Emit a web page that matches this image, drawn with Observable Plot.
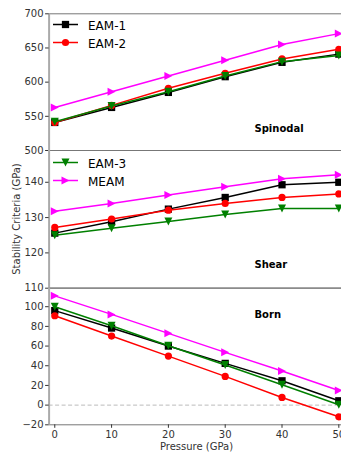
<!DOCTYPE html>
<html><head><meta charset="utf-8">
<script src="https://cdn.jsdelivr.net/npm/d3@7"></script>
<script src="https://cdn.jsdelivr.net/npm/@observablehq/plot@0.6"></script>
<style>
html,body{margin:0;padding:0;background:#fff;overflow:hidden;}
#chart{position:relative;width:341px;height:452px;font-family:"DejaVu Sans",sans-serif;overflow:hidden;}
#chart svg{position:absolute;left:0;top:0;}
.atitle{position:absolute;font-size:10px;color:#333;white-space:nowrap;transform:translate(-50%,-50%);}
</style></head><body><div id="chart"></div>
<script>
// ---- data ----
const pressure = [0, 10, 20, 30, 40, 50];
const seriesNames = ["EAM-1", "EAM-2", "EAM-3", "MEAM"];
const seriesColors = ["#000000", "#ff0000", "#008000", "#ff00ff"];

const spinodalEAM1 = [541, 563, 585, 608, 629, 641];
const spinodalEAM2 = [541, 566, 591, 613, 634, 648];
const spinodalEAM3 = [542, 565, 586, 609, 630, 639];
const spinodalMEAM = [563, 586, 609, 632, 655, 671];

const shearEAM1 = [125.6, 128.8, 132.4, 135.7, 139.3, 140.0];
const shearEAM2 = [127.2, 129.6, 132.1, 134.0, 135.7, 136.7];
const shearEAM3 = [125.0, 127.0, 128.9, 130.9, 132.6, 132.6];
const shearMEAM = [131.8, 134.0, 136.4, 138.7, 141.0, 142.1];

const bornEAM1 = [96, 78.3, 60, 42.4, 24.7, 4.4];
const bornEAM2 = [90.8, 70.2, 49.8, 29.2, 7.8, -11.9];
const bornEAM3 = [100, 80.7, 60.3, 40.7, 20.7, 0.3];
const bornMEAM = [111, 92.2, 72.9, 53.6, 34.6, 14.9];

const xDomain = [-1, 51];
const spinodalDomain = [500, 700];
const shearDomain = [110, 149];
const bornDomain = [-20, 119];
const spinodalTicks = [500, 550, 600, 650, 700];
const shearTicks = [110, 120, 130, 140];
const bornTicks = [-20, 0, 20, 40, 60, 80, 100];
const panelLabels = ["Spinodal", "Shear", "Born"];
const legendPanel1 = ["EAM-1", "EAM-2"];
const legendPanel2 = ["EAM-3", "MEAM"];

// ---- symbols ----
const triDown = {draw(ctx, size) { const h = Math.sqrt(size / Math.PI); ctx.moveTo(0, h); ctx.lineTo(-h, -h); ctx.lineTo(h, -h); ctx.closePath(); }};
const triRight = {draw(ctx, size) { const h = Math.sqrt(size / Math.PI); ctx.moveTo(h, 0); ctx.lineTo(-h, -h); ctx.lineTo(-h, h); ctx.closePath(); }};
const symbols = ["square", "circle", triDown, triRight];
const radii = [4.1, 3.6, 4, 4];

const W = 341, H = 452, left = 48.6, right = 344;
const chart = document.getElementById("chart");

function panel({values, yDomain, yTicks, top, bottom, label, anchor, dy, showX, zero}) {
  const marks = [];
  if (zero) marks.push(Plot.ruleY([0], {stroke: "#bbbbbb", strokeWidth: 1, strokeDasharray: "4,2.5"}));
  values.forEach((vals, k) => {
    const table = pressure.map((p, i) => ({p, v: vals[i]}));
    marks.push(Plot.line(table, {x: "p", y: "v", stroke: seriesColors[k], strokeWidth: 1.5}));
    marks.push(Plot.dot(table, {x: "p", y: "v", fill: seriesColors[k], stroke: "none", r: radii[k], symbol: symbols[k]}));
  });
  marks.push(Plot.ruleY(yDomain, {stroke: "#777777", strokeWidth: 1}));
  marks.push(Plot.ruleX([xDomain[0]], {stroke: "#aaaaaa", strokeWidth: 2}));
  marks.push(Plot.axisY({ticks: yTicks, tickSize: 3.5, tickPadding: 2, fontSize: 10, label: null, color: "#333333"}));
  if (showX) marks.push(Plot.axisX({ticks: pressure, tickSize: 3.5, tickPadding: 3, fontSize: 10, label: null, color: "#333333"}));
  marks.push(Plot.text([label], {frameAnchor: anchor, dx: 254 - left, dy, fontWeight: "bold", fontSize: 10, textAnchor: "start", fill: "#000"}));
  const svg = Plot.plot({
    width: W, height: H,
    marginLeft: left, marginRight: 0, marginTop: top, marginBottom: H - bottom,
    x: {domain: xDomain, range: [left, right], axis: null},
    y: {domain: yDomain, range: [bottom, top], axis: null},
    style: {background: "none", fontFamily: "DejaVu Sans", overflow: "visible"},
    marks
  });
  chart.appendChild(svg);
}

panel({values: [spinodalEAM1, spinodalEAM2, spinodalEAM3, spinodalMEAM], yDomain: spinodalDomain, yTicks: spinodalTicks,
  top: 13.3, bottom: 150, label: panelLabels[0], anchor: "bottom-left", dy: -19});
panel({values: [shearEAM1, shearEAM2, shearEAM3, shearMEAM], yDomain: shearDomain, yTicks: shearTicks,
  top: 150, bottom: 287.7, label: panelLabels[1], anchor: "bottom-left", dy: -20});
panel({values: [bornEAM1, bornEAM2, bornEAM3, bornMEAM], yDomain: bornDomain, yTicks: bornTicks,
  top: 287.5, bottom: 424.3, label: panelLabels[2], anchor: "top-left", dy: 23, showX: true, zero: true});

// ---- legends ----
const lsvg = d3.select(chart).append("svg").attr("width", W).attr("height", H).style("pointer-events", "none");
function legend(names, y0) {
  names.forEach((name, j) => {
    const k = seriesNames.indexOf(name);
    const y = y0 + j * 18;
    lsvg.append("line").attr("x1", 53).attr("x2", 78).attr("y1", y).attr("y2", y)
      .attr("stroke", seriesColors[k]).attr("stroke-width", 1.5);
    const sym = typeof symbols[k] === "string" ? (symbols[k] === "square" ? d3.symbolSquare : d3.symbolCircle) : symbols[k];
    lsvg.append("path").attr("transform", `translate(65.5,${y})`)
      .attr("d", d3.symbol(sym, Math.PI * radii[k] * radii[k])())
      .attr("fill", seriesColors[k]);
    lsvg.append("text").attr("x", 88).attr("y", y + 1).attr("dy", "0.35em")
      .attr("font-size", 12).attr("font-family", "DejaVu Sans").attr("fill", "#000").text(name);
  });
}
legend(legendPanel1, 24.5);
legend(legendPanel2, 162.5);

// ---- axis titles ----
const yt = document.createElement("div");
yt.className = "atitle"; yt.textContent = "Stability Criteria (GPa)";
yt.style.left = "16px"; yt.style.top = "219px"; yt.style.transform = "translate(-50%,-50%) rotate(-90deg)";
chart.appendChild(yt);
const xt = document.createElement("div");
xt.className = "atitle"; xt.textContent = "Pressure (GPa)";
xt.style.left = "196.5px"; xt.style.top = "446px";
chart.appendChild(xt);
</script></body></html>
